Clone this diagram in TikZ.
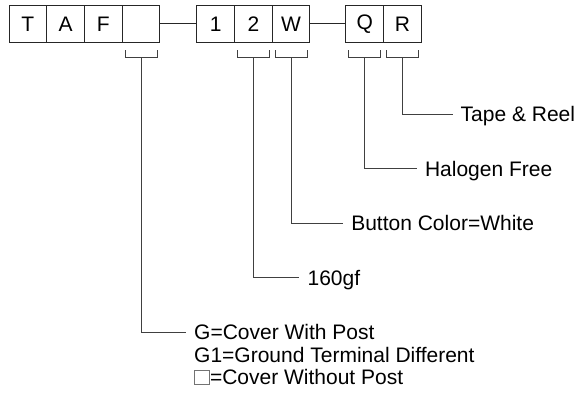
\documentclass[tikz,border=0pt]{standalone}
\usepackage{fontspec}
\setmainfont{Liberation Sans}
\usetikzlibrary{positioning}

\begin{document}
\begin{tikzpicture}[
            x=1pt, y=1pt,
            cell/.style={
                draw=black!85,
                line width=1pt,
                outer sep=0pt,
                inner sep=0pt,
                minimum width=37.7pt,
                minimum height=37.5pt,
                font=\fontsize{21}{25}\selectfont
            },
            joint/.style={
                draw=black!85,
                line width=1pt
            },
            bracket/.style={
                draw=black!75,
                line width=1pt
            },
            lead/.style={
                draw=black!75,
                line width=1pt
            },
            tag/.style={
                anchor=west,
                inner xsep=0pt,
                inner ysep=0pt,
                text height=15pt,
                text depth=0pt,
                font=\fontsize{21}{25}\selectfont
            },
            nobox/.style={
                draw=black!55,
                line width=0.8pt,
                inner sep=0pt,
                minimum width=15pt,
                minimum height=14pt
            }
        ]

% Layout parameters
            \def\yFirst{114}    % first label line
            \def\yStep{54.5}    % distance between label lines
            \def\bHalf{16}      % half width of a bracket
            \def\xGap{8}        % gap between lead and text

            \useasboundingbox (0,0) rectangle (580,-392);

% Part number fields
            \node[cell] (t) at (27.9,-23.8) {T};
            \node[cell, right=0pt of t] (a) {A};
            \node[cell, right=0pt of a] (f) {F};
            \node[cell, right=0pt of f] (s) {};
            \node[cell, right=37pt of s] (n1) {1};
            \node[cell, right=0pt of n1] (n2) {2};
            \node[cell, right=0pt of n2] (w) {W};
            \node[cell, right=36pt of w] (q) {Q};
            \node[cell, right=0pt of q] (r) {R};

            \draw[joint] (s) -- (n1);
            \draw[joint] (w) -- (q);

% Brackets, leads and option texts
            \foreach[count=\j from 0] \c/\l/\len/\txt in {
                r/tape/50/Tape \& Reel,
                q/halo/52/Halogen Free,
                w/color/52/Button Color=White,
                n2/force/46/160gf,
                s/cover/45/G=Cover With Post} {

            % bracket under the field
                \draw[bracket] ([xshift=-\bHalf pt, yshift=-7.5pt]\c.south)
                -- ++(0,-7) -- ++(2*\bHalf,0) -- ++(0,7);
                \coordinate (b\l) at ([yshift=-14.5pt]\c.south);

            % lead end and text
                \pgfmathsetmacro\yl{-\yFirst-\j*\yStep}
                \coordinate (e\l) at ([xshift=\len pt]b\l |- 0,\yl);
                \node[tag] (\l) at ([xshift=\xGap pt]e\l) {\txt};
                \draw[lead] (b\l) |- (e\l);
            }

% Remaining cover options
            \node[tag] (ground) at ([yshift=-22.5pt]cover.west) {G1=Ground Terminal Different};
            \node[nobox, anchor=west] (plain) at ([yshift=-45pt]cover.west) {};
            \node[tag] (without) at (plain.east) {=Cover Without Post};

        \end{tikzpicture}
\end{document}
